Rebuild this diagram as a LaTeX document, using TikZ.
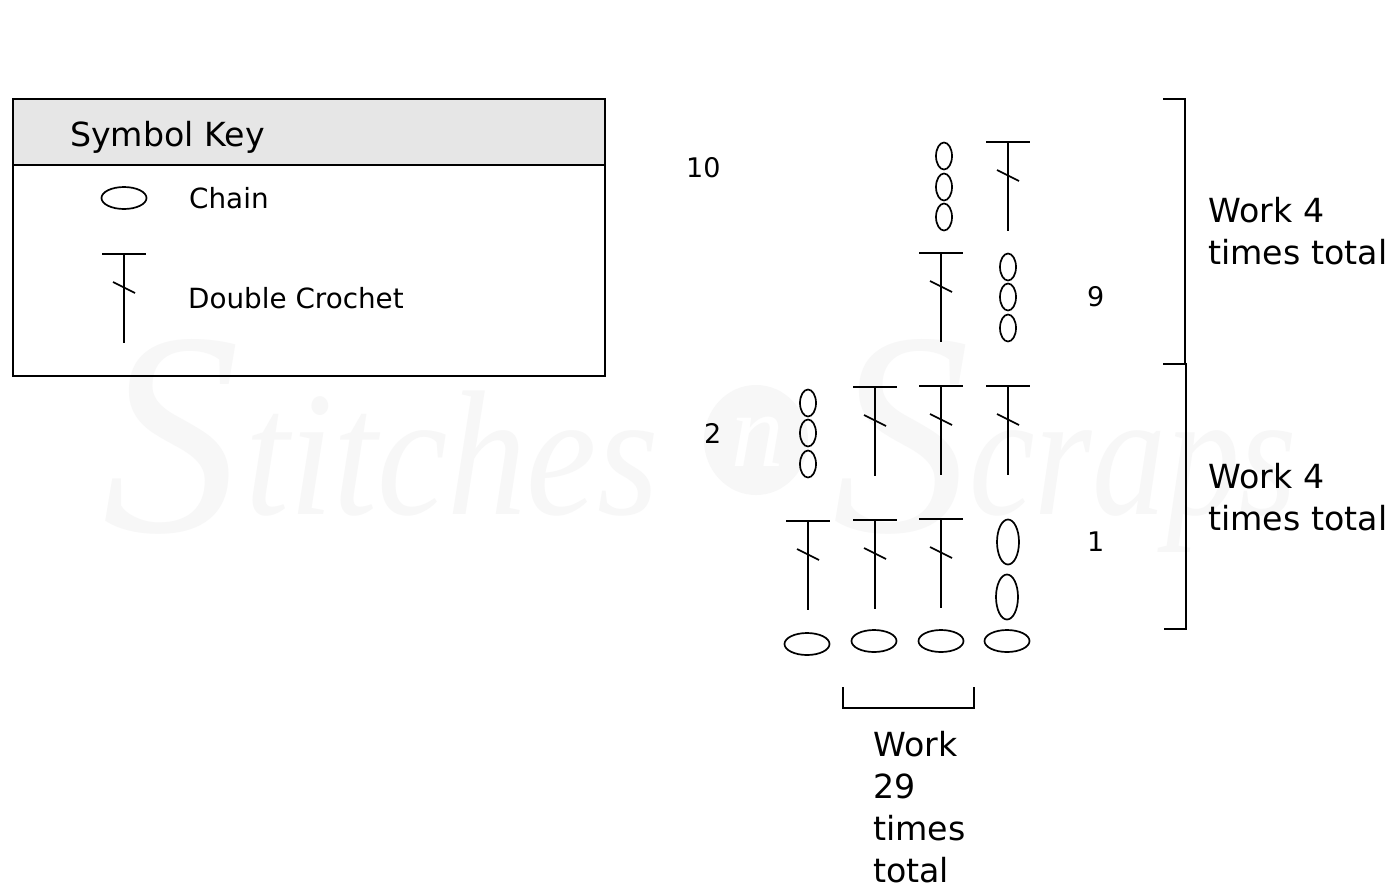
\documentclass[tikz,border=0pt]{standalone}
\usepackage{fontspec}
\setmainfont{DejaVu Sans}
\newfontfamily\wmfont{Liberation Serif}
\usetikzlibrary{shapes.geometric}
\definecolor{wm}{HTML}{F7F7F7}
\definecolor{keyhead}{HTML}{E6E6E6}
\tikzset{
  x=1pt,y=-1pt,
  ink/.style={draw=black,line width=1.7pt},
  boxline/.style={draw=black,line width=1.7pt},
  chainw/.style={ellipse,draw=black,line width=1.7pt,minimum width=45pt,minimum height=22pt,inner sep=0pt},
  chaint/.style={ellipse,draw=black,line width=1.7pt,minimum width=22pt,minimum height=45pt,inner sep=0pt},
  chains/.style={ellipse,draw=black,line width=1.7pt,minimum width=16pt,minimum height=27pt,inner sep=0pt},
  big/.style={inner sep=0pt,anchor=base west,font=\fontsize{33.2}{42}\selectfont,align=left,text=black},
  small/.style={inner sep=0pt,anchor=base west,font=\fontsize{27.8}{34}\selectfont,text=black},
  rownum/.style={inner sep=0pt,anchor=base west,font=\fontsize{27}{32}\selectfont,text=black},
  water/.style={inner sep=0pt,anchor=base west,text=wm},
}
\newcommand{\dcst}[2]{%
  \draw[ink] (#1-22,#2) -- (#1+22,#2);
  \draw[ink] (#1,#2) -- (#1,#2+89);
  \draw[ink] (#1-11,#2+28) -- (#1+11,#2+39);
}
\begin{document}
\begin{tikzpicture}
\useasboundingbox (0,0) rectangle (1397,895);
\fill[white] (0,0) rectangle (1397,895);
% watermark
\node[water,font=\wmfont\itshape\fontsize{290}{290}\selectfont,transform shape,xscale=.95] (wmS1) at (102,531) {S};
\node[water,font=\wmfont\itshape\fontsize{178}{178}\selectfont,transform shape,xscale=.89] (wmT) at (245,514) {titches};
\node[ellipse,fill=wm,minimum width=104pt,minimum height=110pt,inner sep=0pt] (wmO) at (756,440) {};
\node[text=white,inner sep=0pt,font=\wmfont\itshape\fontsize{105}{105}\selectfont] (wmN) at (758,442) {n};
\node[water,font=\wmfont\itshape\fontsize{290}{290}\selectfont,transform shape,xscale=.95] (wmS2) at (832,531) {S};
\node[water,font=\wmfont\itshape\fontsize{178}{178}\selectfont,transform shape,xscale=.83] (wmC) at (969,514) {craps};
% key box
\fill[keyhead] (13,99) rectangle (605,165);
\draw[boxline] (13,99) rectangle (605,376);
\draw[boxline] (13,165) -- (605,165);
\node[big] (keytitle) at (70,146) {Symbol Key};
\node[chainw] (keychain) at (124,198) {};
\node[small] (keychainlabel) at (189,208) {Chain};
\dcst{124}{254}
\node[small] (keydclabel) at (188,308) {Double Crochet};
% row numbers
\node[rownum] (r10) at (686,177) {10};
\node[rownum] (r9) at (1087,306) {9};
\node[rownum] (r2) at (704,443) {2};
\node[rownum] (r1) at (1087,551) {1};
% stitches
\node[chains] (a1) at (944,156) {};
\node[chains] (a2) at (944,187) {};
\node[chains] (a3) at (944,217) {};
\dcst{1008}{142}
\dcst{941}{253}
\node[chains] (b1) at (1008,267) {};
\node[chains] (b2) at (1008,297) {};
\node[chains] (b3) at (1008,328) {};
\node[chains] (c1) at (808,403) {};
\node[chains] (c2) at (808,433) {};
\node[chains] (c3) at (808,464) {};
\dcst{875}{387}
\dcst{941}{386}
\dcst{1008}{386}
\dcst{808}{521}
\dcst{875}{520}
\dcst{941}{519}
\node[chaint] (d1) at (1008,542) {};
\node[chaint] (d2) at (1007,597) {};
\node[chainw] (e1) at (807,644) {};
\node[chainw] (e2) at (874,641) {};
\node[chainw] (e3) at (941,641) {};
\node[chainw] (e4) at (1007,641) {};
% brackets
\coordinate (ba) at (1163,99);
\coordinate (bb) at (1163,364);
\coordinate (bc) at (1164,629);
\coordinate (bd) at (843,687);
\coordinate (be) at (974,687);
\draw[ink] (ba) -- (1185,99) -- (1185,364) -- (bb);
\draw[ink] (bb) -- (1186,364) -- (1186,629) -- (bc);
\draw[ink] (bd) -- (843,708) -- (974,708) -- (be);
% labels
\node[big,text width=200pt] (w1) at (1208,222) {Work 4\\times total};
\node[big,text width=200pt] (w2) at (1208,488) {Work 4\\times total};
\node[big,text width=110pt] (w3) at (873,756) {Work\\29\\times\\total};
\end{tikzpicture}
\end{document}
